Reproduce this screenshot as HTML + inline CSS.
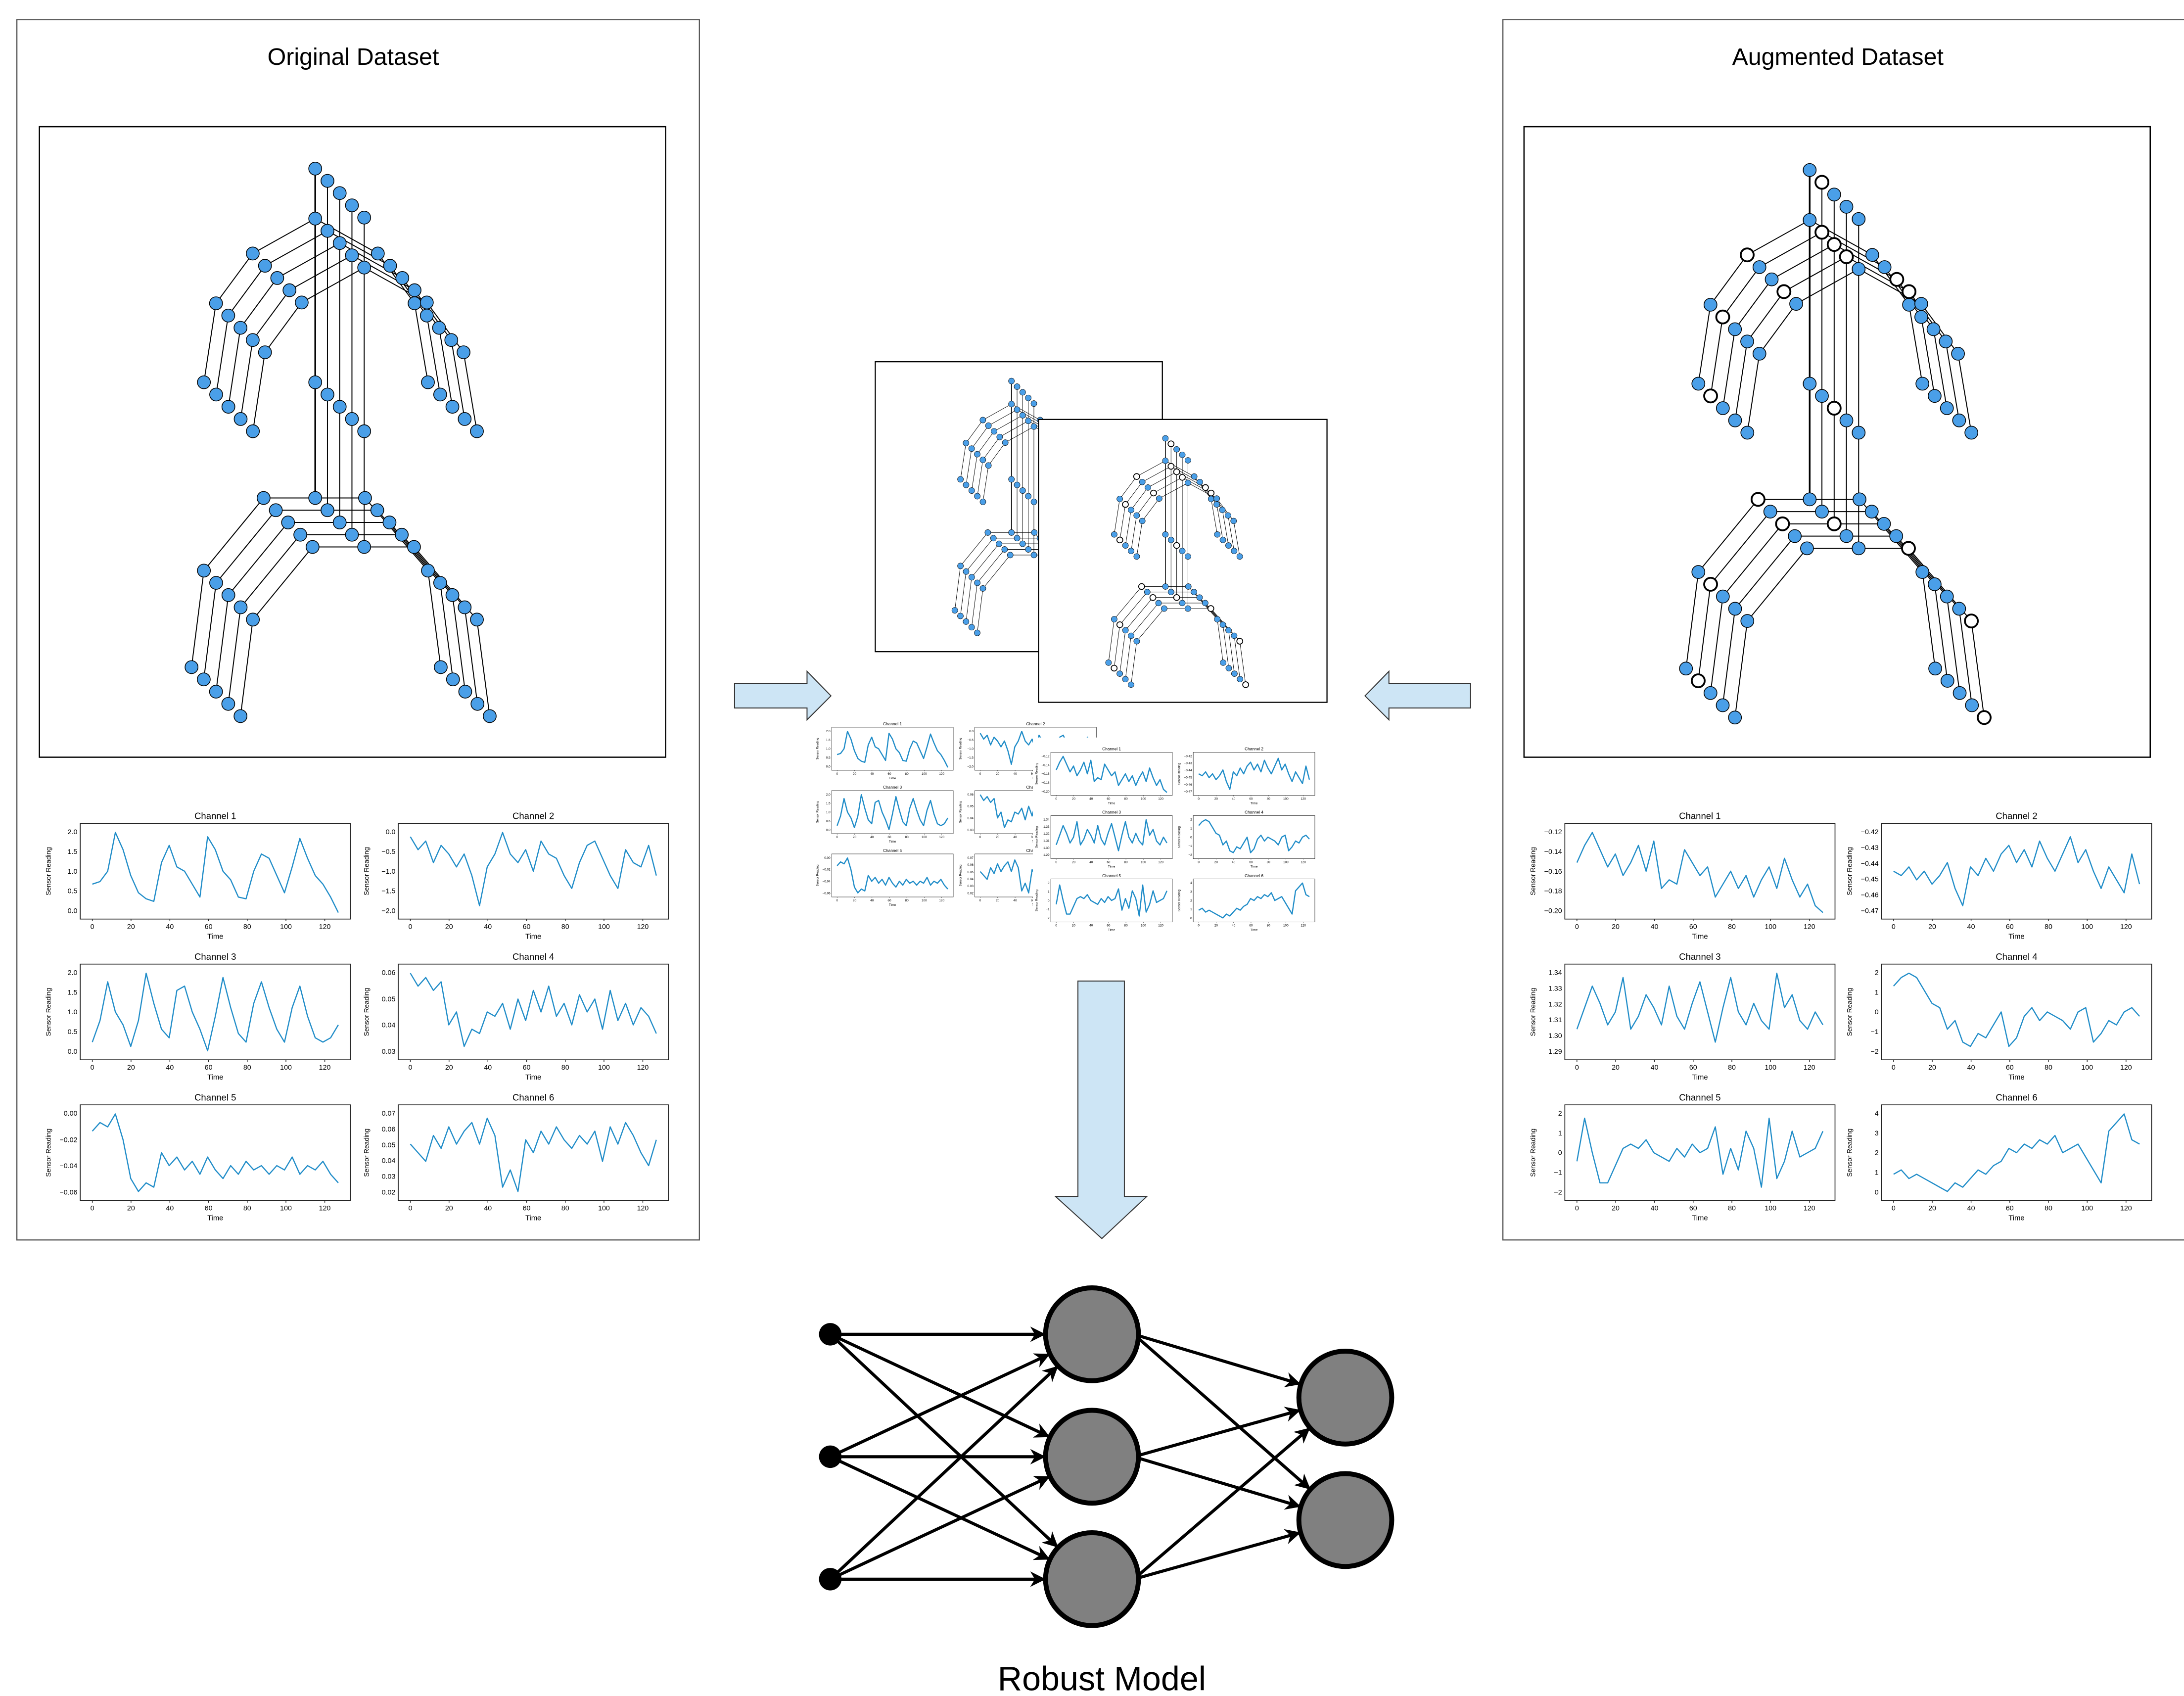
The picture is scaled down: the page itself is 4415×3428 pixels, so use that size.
<!DOCTYPE html>
<html><head><meta charset="utf-8">
<style>
html,body{margin:0;padding:0;background:#fff;}
svg{display:block;}
text{font-family:"Liberation Sans",sans-serif;}
.pl{fill:none;stroke:#1f8cc8;stroke-width:2.4;stroke-linejoin:round;}
</style></head>
<body>
<svg xmlns="http://www.w3.org/2000/svg" xmlns:xlink="http://www.w3.org/1999/xlink" width="4415" height="3428" viewBox="0 0 1552 1205">
<defs>
<marker id="ah" viewBox="0 0 10 10" refX="9" refY="5" markerWidth="5" markerHeight="5" orient="auto" markerUnits="strokeWidth">
<path d="M0,0 L10,5 L0,10 L3,5 z" fill="#000"/>
</marker>
<g id="skLine"><path d="M224,119.8 V353.8 M224,155.3 L179.6,180.1 L153.5,215.5 L144.9,271.6 M224,155.3 L268.5,180.1 L294.6,215.5 L304.1,271.6 M224,353.8 L187.3,353.8 L144.9,405.4 L136.1,474 M224,353.8 L259.4,353.8 L304.1,405.4 L313.2,474" fill="none" stroke="#000" stroke-width="0.7"/></g>
<g id="skNode" fill="#4a9fe8" stroke="#000" stroke-width="0.55">
<circle cx="224" cy="119.8" r="4.6"/><circle cx="224" cy="155.3" r="4.6"/><circle cx="179.6" cy="180.1" r="4.6"/><circle cx="153.5" cy="215.5" r="4.6"/><circle cx="144.9" cy="271.6" r="4.6"/><circle cx="268.5" cy="180.1" r="4.6"/><circle cx="294.6" cy="215.5" r="4.6"/><circle cx="304.1" cy="271.6" r="4.6"/><circle cx="224" cy="271.6" r="4.6"/><circle cx="224" cy="353.8" r="4.6"/><circle cx="187.3" cy="353.8" r="4.6"/><circle cx="144.9" cy="405.4" r="4.6"/><circle cx="136.1" cy="474" r="4.6"/><circle cx="259.4" cy="353.8" r="4.6"/><circle cx="304.1" cy="405.4" r="4.6"/><circle cx="313.2" cy="474" r="4.6"/>
</g>
<g id="skel">
<use href="#skLine"/><use href="#skLine" transform="translate(8.7,8.7)"/><use href="#skLine" transform="translate(17.4,17.4)"/><use href="#skLine" transform="translate(26.1,26.1)"/><use href="#skLine" transform="translate(34.8,34.8)"/>
<path d="M224,119.8 V353.8" stroke="#000" stroke-width="1.2"/>
<use href="#skNode"/><use href="#skNode" transform="translate(8.7,8.7)"/><use href="#skNode" transform="translate(17.4,17.4)"/><use href="#skNode" transform="translate(26.1,26.1)"/><use href="#skNode" transform="translate(34.8,34.8)"/>
</g>
<g id="skelW">
<use href="#skel"/>
<g fill="#fff" stroke="#000" stroke-width="1.3">
<circle cx="232.7" cy="128.5" r="4.6"/><circle cx="232.7" cy="164" r="4.6"/><circle cx="241.4" cy="172.7" r="4.6"/><circle cx="250.1" cy="181.4" r="4.6"/><circle cx="179.6" cy="180.1" r="4.6"/><circle cx="205.7" cy="206.2" r="4.6"/><circle cx="162.2" cy="224.2" r="4.6"/><circle cx="153.6" cy="280.3" r="4.6"/><circle cx="285.9" cy="197.5" r="4.6"/><circle cx="294.6" cy="206.2" r="4.6"/><circle cx="241.4" cy="289" r="4.6"/><circle cx="187.3" cy="353.8" r="4.6"/><circle cx="204.7" cy="371.2" r="4.6"/><circle cx="241.4" cy="371.2" r="4.6"/><circle cx="294.2" cy="388.6" r="4.6"/><circle cx="153.6" cy="414.1" r="4.6"/><circle cx="338.9" cy="440.2" r="4.6"/><circle cx="144.8" cy="482.7" r="4.6"/><circle cx="348" cy="508.8" r="4.6"/>
</g>
</g>
<g id="frame">
<rect width="192" height="68" fill="#fff" stroke="#222" stroke-width="0.6"/>
<g stroke="#222" stroke-width="0.5"><path d="M8.6,68v1.5M36.1,68v1.5M63.7,68v1.5M91.2,68v1.5M118.7,68v1.5M146.2,68v1.5M173.8,68v1.5"/></g>
<g font-size="5" text-anchor="middle"><text x="8.6" y="75">0</text><text x="36.1" y="75">20</text><text x="63.7" y="75">40</text><text x="91.2" y="75">60</text><text x="118.7" y="75">80</text><text x="146.2" y="75">100</text><text x="173.8" y="75">120</text></g>
<text x="96" y="82" font-size="5.2" text-anchor="middle">Time</text>
<text transform="translate(-21,34) rotate(-90)" font-size="4.8" text-anchor="middle">Sensor Reading</text>
</g>
<g id="gridL">
<g transform="translate(57,585)"><use href="#frame"/><text x="96" y="-3" font-size="6.5" text-anchor="middle">Channel 1</text>
<g font-size="5" text-anchor="end"><text x="-2" y="63.7">0.0</text><text x="-2" y="49.7">0.5</text><text x="-2" y="35.7">1.0</text><text x="-2" y="21.7">1.5</text><text x="-2" y="7.7">2.0</text></g>
<polyline class="pl" vector-effect="non-scaling-stroke" transform="translate(8.6,64.6) scale(5.4625,-61.2)" points="0,.35 1,.38 2,.5 3,.95 4,.75 5,.45 6,.25 7,.18 8,.15 9,.6 10,.8 11,.55 12,.5 13,.35 14,.2 15,.9 16,.75 17,.5 18,.4 19,.2 20,.18 21,.5 22,.7 23,.65 24,.45 25,.25 26,.55 27,.88 28,.65 29,.45 30,.35 31,.2 32,.02"/></g>
<g transform="translate(283,585)"><use href="#frame"/><text x="96" y="-3" font-size="6.5" text-anchor="middle">Channel 2</text>
<g font-size="5" text-anchor="end"><text x="-2" y="63.7">−2.0</text><text x="-2" y="49.7">−1.5</text><text x="-2" y="35.7">−1.0</text><text x="-2" y="21.7">−0.5</text><text x="-2" y="7.7">0.0</text></g>
<polyline class="pl" vector-effect="non-scaling-stroke" transform="translate(8.6,64.6) scale(5.4625,-61.2)" points="0,.9 1,.75 2,.85 3,.6 4,.8 5,.7 6,.55 7,.7 8,.45 9,.1 10,.55 11,.7 12,.95 13,.7 14,.6 15,.75 16,.5 17,.85 18,.7 19,.65 20,.45 21,.3 22,.6 23,.8 24,.85 25,.65 26,.45 27,.3 28,.75 29,.6 30,.55 31,.8 32,.45"/></g>
<g transform="translate(57,685)"><use href="#frame"/><text x="96" y="-3" font-size="6.5" text-anchor="middle">Channel 3</text>
<g font-size="5" text-anchor="end"><text x="-2" y="63.7">0.0</text><text x="-2" y="49.7">0.5</text><text x="-2" y="35.7">1.0</text><text x="-2" y="21.7">1.5</text><text x="-2" y="7.7">2.0</text></g>
<polyline class="pl" vector-effect="non-scaling-stroke" transform="translate(8.6,64.6) scale(5.4625,-61.2)" points="0,.15 1,.4 2,.85 3,.5 4,.35 5,.1 6,.4 7,.95 8,.6 9,.3 10,.2 11,.75 12,.8 13,.5 14,.3 15,.05 16,.45 17,.9 18,.55 19,.25 20,.15 21,.6 22,.85 23,.55 24,.3 25,.15 26,.55 27,.8 28,.45 29,.2 30,.15 31,.2 32,.35"/></g>
<g transform="translate(283,685)"><use href="#frame"/><text x="96" y="-3" font-size="6.5" text-anchor="middle">Channel 4</text>
<g font-size="5" text-anchor="end"><text x="-2" y="63.7">0.03</text><text x="-2" y="45">0.04</text><text x="-2" y="26.4">0.05</text><text x="-2" y="7.7">0.06</text></g>
<polyline class="pl" vector-effect="non-scaling-stroke" transform="translate(8.6,64.6) scale(5.4625,-61.2)" points="0,.95 1,.8 2,.9 3,.75 4,.85 5,.35 6,.5 7,.1 8,.3 9,.25 10,.5 11,.45 12,.6 13,.3 14,.65 15,.4 16,.75 17,.5 18,.8 19,.45 20,.6 21,.35 22,.7 23,.5 24,.65 25,.3 26,.75 27,.4 28,.6 29,.35 30,.55 31,.45 32,.25"/></g>
<g transform="translate(57,785)"><use href="#frame"/><text x="96" y="-3" font-size="6.5" text-anchor="middle">Channel 5</text>
<g font-size="5" text-anchor="end"><text x="-2" y="63.7">−0.06</text><text x="-2" y="45">−0.04</text><text x="-2" y="26.4">−0.02</text><text x="-2" y="7.7">0.00</text></g>
<polyline class="pl" vector-effect="non-scaling-stroke" transform="translate(8.6,64.6) scale(5.4625,-61.2)" points="0,.75 1,.85 2,.8 3,.95 4,.65 5,.2 6,.05 7,.15 8,.1 9,.5 10,.35 11,.45 12,.3 13,.4 14,.25 15,.45 16,.3 17,.2 18,.35 19,.25 20,.4 21,.3 22,.35 23,.25 24,.35 25,.3 26,.45 27,.25 28,.35 29,.3 30,.4 31,.25 32,.15"/></g>
<g transform="translate(283,785)"><use href="#frame"/><text x="96" y="-3" font-size="6.5" text-anchor="middle">Channel 6</text>
<g font-size="5" text-anchor="end"><text x="-2" y="63.7">0.02</text><text x="-2" y="52.5">0.03</text><text x="-2" y="41.3">0.04</text><text x="-2" y="30.1">0.05</text><text x="-2" y="18.9">0.06</text><text x="-2" y="7.7">0.07</text></g>
<polyline class="pl" vector-effect="non-scaling-stroke" transform="translate(8.6,64.6) scale(5.4625,-61.2)" points="0,.6 1,.5 2,.4 3,.7 4,.55 5,.8 6,.6 7,.75 8,.85 9,.6 10,.9 11,.7 12,.1 13,.3 14,.05 15,.65 16,.5 17,.75 18,.6 19,.8 20,.65 21,.55 22,.7 23,.6 24,.75 25,.4 26,.8 27,.6 28,.85 29,.7 30,.5 31,.35 32,.65"/></g>
</g>
<g id="gridR">
<g transform="translate(1112,585)"><use href="#frame"/><text x="96" y="-3" font-size="6.5" text-anchor="middle">Channel 1</text>
<g font-size="5" text-anchor="end"><text x="-2" y="63.7">−0.20</text><text x="-2" y="49.7">−0.18</text><text x="-2" y="35.7">−0.16</text><text x="-2" y="21.7">−0.14</text><text x="-2" y="7.7">−0.12</text></g>
<polyline class="pl" vector-effect="non-scaling-stroke" transform="translate(8.6,64.6) scale(5.4625,-61.2)" points="0,.6 1,.8 2,.95 3,.75 4,.55 5,.7 6,.45 7,.6 8,.8 9,.5 10,.85 11,.3 12,.4 13,.35 14,.75 15,.6 16,.45 17,.55 18,.2 19,.35 20,.5 21,.3 22,.45 23,.2 24,.4 25,.55 26,.3 27,.65 28,.4 29,.2 30,.35 31,.1 32,.02"/></g>
<g transform="translate(1337,585)"><use href="#frame"/><text x="96" y="-3" font-size="6.5" text-anchor="middle">Channel 2</text>
<g font-size="5" text-anchor="end"><text x="-2" y="63.7">−0.47</text><text x="-2" y="52.5">−0.46</text><text x="-2" y="41.3">−0.45</text><text x="-2" y="30.1">−0.44</text><text x="-2" y="18.9">−0.43</text><text x="-2" y="7.7">−0.42</text></g>
<polyline class="pl" vector-effect="non-scaling-stroke" transform="translate(8.6,64.6) scale(5.4625,-61.2)" points="0,.5 1,.45 2,.55 3,.4 4,.5 5,.35 6,.45 7,.6 8,.3 9,.1 10,.55 11,.45 12,.65 13,.5 14,.7 15,.8 16,.6 17,.75 18,.55 19,.85 20,.65 21,.5 22,.7 23,.9 24,.6 25,.75 26,.5 27,.3 28,.55 29,.4 30,.25 31,.7 32,.35"/></g>
<g transform="translate(1112,685)"><use href="#frame"/><text x="96" y="-3" font-size="6.5" text-anchor="middle">Channel 3</text>
<g font-size="5" text-anchor="end"><text x="-2" y="63.7">1.29</text><text x="-2" y="52.5">1.30</text><text x="-2" y="41.3">1.31</text><text x="-2" y="30.1">1.32</text><text x="-2" y="18.9">1.33</text><text x="-2" y="7.7">1.34</text></g>
<polyline class="pl" vector-effect="non-scaling-stroke" transform="translate(8.6,64.6) scale(5.4625,-61.2)" points="0,.3 1,.55 2,.8 3,.6 4,.35 5,.5 6,.9 7,.3 8,.45 9,.7 10,.55 11,.35 12,.8 13,.45 14,.3 15,.6 16,.85 17,.5 18,.15 19,.55 20,.9 21,.5 22,.35 23,.6 24,.4 25,.3 26,.95 27,.55 28,.7 29,.4 30,.3 31,.5 32,.35"/></g>
<g transform="translate(1337,685)"><use href="#frame"/><text x="96" y="-3" font-size="6.5" text-anchor="middle">Channel 4</text>
<g font-size="5" text-anchor="end"><text x="-2" y="63.7">−2</text><text x="-2" y="49.7">−1</text><text x="-2" y="35.7">0</text><text x="-2" y="21.7">1</text><text x="-2" y="7.7">2</text></g>
<polyline class="pl" vector-effect="non-scaling-stroke" transform="translate(8.6,64.6) scale(5.4625,-61.2)" points="0,.8 1,.9 2,.95 3,.9 4,.75 5,.6 6,.55 7,.3 8,.4 9,.15 10,.1 11,.25 12,.2 13,.35 14,.5 15,.1 16,.2 17,.45 18,.55 19,.4 20,.5 21,.45 22,.4 23,.3 24,.5 25,.55 26,.15 27,.25 28,.4 29,.35 30,.5 31,.55 32,.45"/></g>
<g transform="translate(1112,785)"><use href="#frame"/><text x="96" y="-3" font-size="6.5" text-anchor="middle">Channel 5</text>
<g font-size="5" text-anchor="end"><text x="-2" y="63.7">−2</text><text x="-2" y="49.7">−1</text><text x="-2" y="35.7">0</text><text x="-2" y="21.7">1</text><text x="-2" y="7.7">2</text></g>
<polyline class="pl" vector-effect="non-scaling-stroke" transform="translate(8.6,64.6) scale(5.4625,-61.2)" points="0,.4 1,.9 2,.5 3,.15 4,.15 5,.35 6,.55 7,.6 8,.55 9,.65 10,.5 11,.45 12,.4 13,.55 14,.45 15,.6 16,.5 17,.55 18,.8 19,.25 20,.55 21,.3 22,.75 23,.55 24,.1 25,.9 26,.2 27,.4 28,.75 29,.45 30,.5 31,.55 32,.75"/></g>
<g transform="translate(1337,785)"><use href="#frame"/><text x="96" y="-3" font-size="6.5" text-anchor="middle">Channel 6</text>
<g font-size="5" text-anchor="end"><text x="-2" y="63.7">0</text><text x="-2" y="49.7">1</text><text x="-2" y="35.7">2</text><text x="-2" y="21.7">3</text><text x="-2" y="7.7">4</text></g>
<polyline class="pl" vector-effect="non-scaling-stroke" transform="translate(8.6,64.6) scale(5.4625,-61.2)" points="0,.25 1,.3 2,.2 3,.25 4,.2 5,.15 6,.1 7,.05 8,.15 9,.1 10,.2 11,.3 12,.25 13,.35 14,.4 15,.55 16,.5 17,.6 18,.55 19,.65 20,.6 21,.7 22,.5 23,.55 24,.6 25,.45 26,.3 27,.15 28,.75 29,.85 30,.95 31,.65 32,.6"/></g>
</g>
</defs>
<rect x="0" y="0" width="1552" height="1205" fill="#fff"/>
<!-- Left panel -->
<rect x="12" y="14" width="485" height="867" fill="none" stroke="#555" stroke-width="0.8"/>
<text x="251" y="46" font-size="17" text-anchor="middle">Original Dataset</text>
<rect x="28" y="90" width="445" height="448" fill="none" stroke="#000" stroke-width="0.9"/>
<use href="#skel"/>
<use href="#gridL"/>
<!-- Right panel -->
<path d="M1552,14 H1068 V881 H1552" fill="none" stroke="#555" stroke-width="0.8"/>
<text x="1306" y="46" font-size="17" text-anchor="middle">Augmented Dataset</text>
<rect x="1083" y="90" width="445" height="448" fill="none" stroke="#000" stroke-width="0.9"/>
<use href="#skelW" transform="translate(1062,1)"/>
<use href="#gridR"/>
<!-- middle images -->
<rect x="622" y="257" width="204" height="206" fill="#fff" stroke="#000" stroke-width="0.8"/>
<use href="#skel" transform="translate(629,257) scale(0.458,0.46) translate(-28,-90)"/>
<rect x="738" y="298" width="205" height="201" fill="#fff" stroke="#000" stroke-width="0.8"/>
<use href="#skelW" transform="translate(738,298) scale(0.46,0.45) translate(-28,-90)"/>
<use href="#gridL" transform="translate(591,516.7) scale(0.45) translate(-57,-585)"/>
<rect x="734" y="524" width="210" height="142" fill="#fff"/>
<use href="#gridR" transform="translate(746.7,534.5) scale(0.45) translate(-1112,-585)"/>
<!-- arrows -->
<path d="M522,485.8 H573.5 V477 L590.5,494.4 L573.5,511.4 V503 H522 Z" fill="#cde5f5" stroke="#333" stroke-width="0.7"/>
<path d="M1045,485.8 H987 V477 L970,494.4 L987,511.4 V503 H1045 Z" fill="#cde5f5" stroke="#333" stroke-width="0.7"/>
<path d="M766,697 H799 V850 H815 L783,880 L750,850 H766 Z" fill="#cde5f5" stroke="#333" stroke-width="0.7"/>
<!-- neural net -->
<g stroke="#000" stroke-width="2.2" fill="none">
<line x1="590" y1="948" x2="742" y2="948" marker-end="url(#ah)"/>
<line x1="590" y1="948" x2="745.2" y2="1020.6" marker-end="url(#ah)"/>
<line x1="590" y1="948" x2="751.2" y2="1098.8" marker-end="url(#ah)"/>
<line x1="590" y1="1035" x2="745.2" y2="962.4" marker-end="url(#ah)"/>
<line x1="590" y1="1035" x2="742" y2="1035" marker-end="url(#ah)"/>
<line x1="590" y1="1035" x2="745.2" y2="1107.6" marker-end="url(#ah)"/>
<line x1="590" y1="1122" x2="751.2" y2="971.2" marker-end="url(#ah)"/>
<line x1="590" y1="1122" x2="745.2" y2="1049.4" marker-end="url(#ah)"/>
<line x1="590" y1="1122" x2="742" y2="1122" marker-end="url(#ah)"/>
<line x1="805.7" y1="948" x2="923.4" y2="983.2" marker-end="url(#ah)"/>
<line x1="805.7" y1="948" x2="930.5" y2="1057.6" marker-end="url(#ah)"/>
<line x1="805.7" y1="1035" x2="923.3" y2="1002.1" marker-end="url(#ah)"/>
<line x1="805.7" y1="1035" x2="923.4" y2="1070.2" marker-end="url(#ah)"/>
<line x1="805.7" y1="1122" x2="930.2" y2="1015.1" marker-end="url(#ah)"/>
<line x1="805.7" y1="1122" x2="923.3" y2="1089.1" marker-end="url(#ah)"/>
</g>
<g fill="#000"><circle cx="590" cy="948" r="8"/><circle cx="590" cy="1035" r="8"/><circle cx="590" cy="1122" r="8"/></g>
<g fill="#808080" stroke="#000" stroke-width="3.5">
<circle cx="776" cy="948" r="33"/><circle cx="776" cy="1035" r="33"/><circle cx="776" cy="1122" r="33"/><circle cx="956" cy="993" r="33"/><circle cx="956" cy="1080" r="33"/>
</g>
<text x="783" y="1201" font-size="24" text-anchor="middle">Robust Model</text>
</svg>
</body></html>
